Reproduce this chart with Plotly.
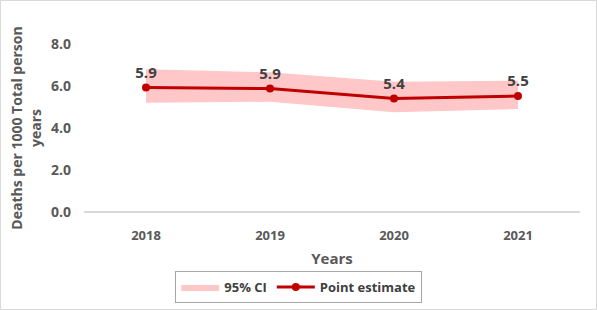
import plotly.graph_objects as go

years = ["2018", "2019", "2020", "2021"]
estimate = [5.93, 5.88, 5.40, 5.52]
ci_upper = [6.80, 6.65, 6.20, 6.25]
ci_lower = [5.20, 5.25, 4.75, 4.90]
y_ticks = [0, 2, 4, 6, 8]

FONT = "Open Sans"
GREY = "#595959"

fig = go.Figure()
fig.add_trace(go.Scatter(x=years, y=ci_lower, mode="lines", line=dict(width=0, color="#FFC7C7"),
                         showlegend=False, hoverinfo="skip"))
fig.add_trace(go.Scatter(x=years, y=ci_upper, mode="lines", line=dict(width=0, color="#FFC7C7"),
                         fill="tonexty", fillcolor="#FFC7C7", name="95% CI"))
fig.add_trace(go.Scatter(x=years, y=estimate, mode="lines+markers+text", name="Point estimate",
                         line=dict(color="#C00000", width=3), marker=dict(size=8, color="#C00000"),
                         text=[f"{v:.1f}" for v in estimate], textposition="top center",
                         textfont=dict(family=FONT, size=15, color="#404040", weight="bold")))

fig.update_layout(
    width=597, height=310,
    margin=dict(l=84, r=17, t=44, b=98, autoexpand=False),
    plot_bgcolor="white", paper_bgcolor="white",
    font=dict(family=FONT, size=13, color=GREY, weight="bold"),
    showlegend=True,
    legend=dict(orientation="h", x=0.433, xref="paper", y=0.074, yref="container",
                xanchor="center", yanchor="middle",
                bordercolor="#A6A6A6", borderwidth=1, font=dict(size=13, color="#404040", weight="bold"),
                itemwidth=38, traceorder="normal"),
    xaxis=dict(type="category", range=[-0.5, 3.5], showgrid=False, zeroline=False, showline=False,
               automargin=False,
               title=dict(text="Years", font=dict(size=15, color=GREY, weight="bold"), standoff=10),
               tickfont=dict(size=13, color=GREY, weight="bold"), ticks="", ticklabelstandoff=14),
    yaxis=dict(range=[0, 8], tickvals=y_ticks, tickformat=".1f", showgrid=False,
               zeroline=True, zerolinecolor="#D9D9D9", zerolinewidth=1.5, showline=False,
               automargin=False, ticks="", ticklabelstandoff=12,
               tickfont=dict(size=14, color=GREY, weight="bold"),
               title=dict(text="Deaths per 1000 Total person<br>years",
                          font=dict(size=14, color=GREY, weight="bold"), standoff=6)),
    shapes=[dict(type="rect", xref="paper", yref="paper",
                 x0=-0.1683, x1=1.0333, y0=-0.5804, y1=1.2589,
                 line=dict(color="#D9D9D9", width=1), layer="below")],
)

fig.write_html("out.html")
